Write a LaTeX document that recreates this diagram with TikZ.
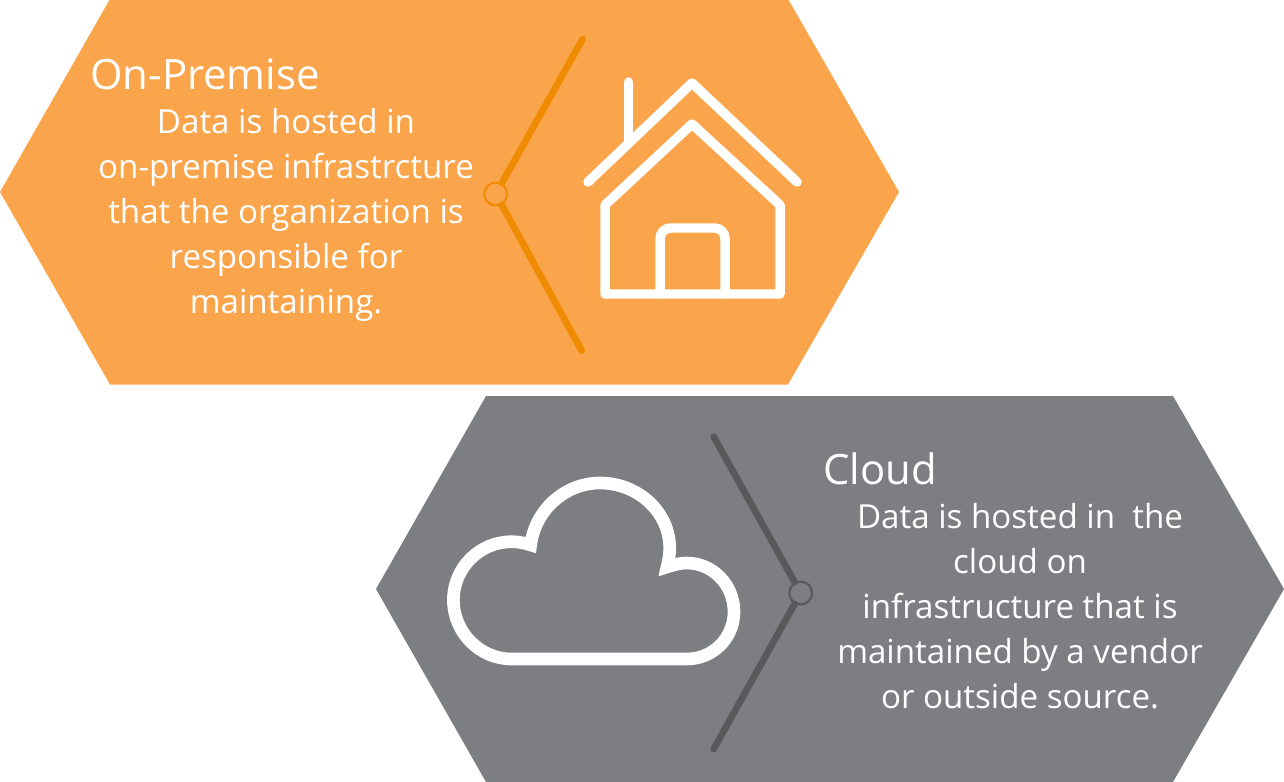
\documentclass[tikz,border=0pt]{standalone}
\usepackage{fontspec}
\setmainfont{Open Sans}
\definecolor{hexorange}{HTML}{FAA54C}
\definecolor{lineorange}{HTML}{EF8B00}
\definecolor{hexgray}{HTML}{7D7E82}
\definecolor{linegray}{HTML}{58595B}
\tikzset{
  title/.style={text=white, anchor=base west, inner sep=0pt, font=\fontsize{23.8}{28}\selectfont},
  body/.style={text=white, anchor=base, inner sep=0pt, font=\fontsize{18.85}{24}\selectfont},
  hub/.style={circle, draw=#1, line width=1.2pt, minimum size=13pt, inner sep=0pt},
  spoke/.style={line width=3.8pt, line cap=round},
  icon/.style={draw=white, line join=round, line cap=round, line width=5.4pt}
}

\begin{document}
\begin{tikzpicture}[x=0.02cm, y=-0.02cm]
\useasboundingbox (0,0) rectangle (1284,781);
% hexagons
\fill[hexorange] (0,192) -- (110,-1) -- (788,-1) -- (899,192) -- (788,384.5) -- (110,384.5) -- cycle;
\fill[hexgray] (376,589) -- (486,396) -- (1173,396) -- (1284,589) -- (1173,782) -- (486,782) -- cycle;

% on-premise side
\node[title](premtitle) at (90,89) {On-Premise};
\node[body](prem1) at (286,133) {Data is hosted in};
\node[body](prem2) at (286,178) {on-premise infrastrcture};
\node[body](prem3) at (286,223) {that the organization is};
\node[body](prem4) at (286,268) {responsible for};
\node[body](prem5) at (286,313) {maintaining.};
\coordinate (premtop) at (582.7,39);
\coordinate (prembot) at (581.7,350.7);
\node[hub=lineorange, fill=hexorange](premhub) at (495.7,194) {};
\draw[spoke, lineorange] (premhub) -- (premtop);
\draw[spoke, lineorange] (premhub) -- (prembot);

% house
\draw[icon] (588,182) -- (692,83) -- (797,182);
\draw[icon] (628.7,82) -- (628.7,142);
\draw[icon] (692,124) -- (605,205) -- (605,294) -- (780,294) -- (780,205) -- cycle;
\draw[icon, rounded corners=6pt] (660,294) -- (660,228) -- (725,228) -- (725,294);

% cloud side
\node[title](cloudtitle) at (823,484) {Cloud};
\node[body](cloud1) at (1020,528) {Data is hosted in~~the};
\node[body](cloud2) at (1020,573) {cloud on};
\node[body](cloud3) at (1020,618) {infrastructure that is};
\node[body](cloud4) at (1020,663) {maintained by a vendor};
\node[body](cloud5) at (1020,708) {or outside source.};
\coordinate (cloudtop) at (713.7,436.7);
\coordinate (cloudbot) at (713.7,749);
\node[hub=linegray, fill=hexgray](cloudhub) at (800.7,593) {};
\draw[spoke, linegray] (cloudhub) -- (cloudtop);
\draw[spoke, linegray] (cloudhub) -- (cloudbot);

% cloud
\draw[draw=white, line width=7.2pt, line join=miter, miter limit=10]
  (511.7,659) .. controls (479.5,659) and (453.4,632.2) .. (453.4,600)
  .. controls (453.4,567.8) and (479.5,541.7) .. (511.7,541.7)
  .. controls (518,541.7) and (525,543) .. (530.7,545)
  .. controls (535,510) and (565,483) .. (600,483)
  .. controls (638,483) and (669.7,512) .. (669.7,548)
  .. controls (669.7,555) and (668.5,561) .. (667,567)
  .. controls (673,565) and (680,563) .. (686.7,563)
  .. controls (713,563) and (734,585) .. (734,611.7)
  .. controls (734,638) and (713,659) .. (686.7,659)
  -- cycle;
\end{tikzpicture}
\end{document}
